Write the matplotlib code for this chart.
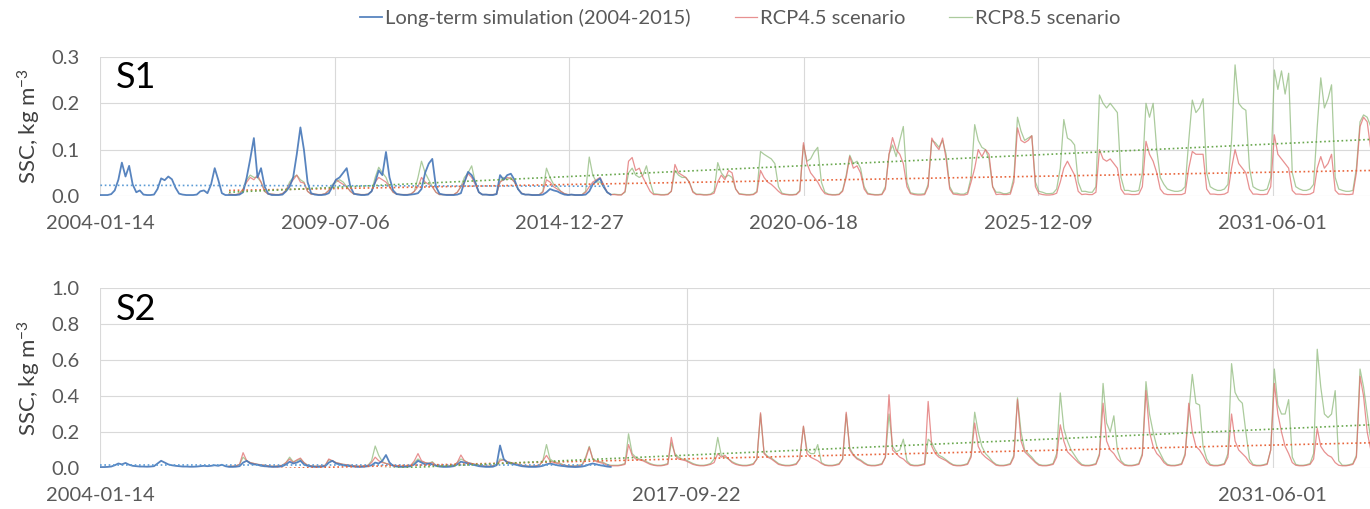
import numpy as np
import matplotlib
matplotlib.use("Agg")
import matplotlib.pyplot as plt

plt.rcParams['font.family'] = ['Lato', 'DejaVu Sans']
plt.rcParams['mathtext.default'] = 'regular'

# monthly SSC values (kg m-3), one row per year, Jan..Dec, mid-month
lt_first_year = 2004
rcp_first_year = 2007

s1_longterm = [
    [0.002, 0.002, 0.002, 0.004, 0.012, 0.035, 0.072, 0.042, 0.065, 0.025, 0.008, 0.012],
    [0.003, 0.002, 0.002, 0.003, 0.015, 0.038, 0.034, 0.042, 0.036, 0.018, 0.005, 0.003],
    [0.002, 0.002, 0.002, 0.003, 0.010, 0.012, 0.006, 0.025, 0.060, 0.035, 0.006, 0.002],
    [0.002, 0.002, 0.002, 0.003, 0.008, 0.040, 0.080, 0.125, 0.040, 0.060, 0.020, 0.005],
    [0.002, 0.002, 0.002, 0.003, 0.010, 0.020, 0.040, 0.090, 0.148, 0.100, 0.030, 0.006],
    [0.003, 0.002, 0.002, 0.003, 0.006, 0.020, 0.035, 0.040, 0.050, 0.060, 0.020, 0.005],
    [0.003, 0.002, 0.002, 0.003, 0.010, 0.030, 0.055, 0.045, 0.095, 0.040, 0.012, 0.004],
    [0.003, 0.002, 0.002, 0.003, 0.004, 0.006, 0.015, 0.050, 0.070, 0.080, 0.020, 0.005],
    [0.003, 0.002, 0.002, 0.002, 0.003, 0.006, 0.030, 0.052, 0.045, 0.030, 0.008, 0.003],
    [0.003, 0.002, 0.002, 0.004, 0.045, 0.035, 0.045, 0.048, 0.035, 0.015, 0.005, 0.003],
    [0.003, 0.002, 0.002, 0.002, 0.003, 0.008, 0.015, 0.012, 0.010, 0.006, 0.003, 0.002],
    [0.003, 0.002, 0.002, 0.002, 0.003, 0.010, 0.025, 0.032, 0.038, 0.020, 0.008, 0.003],
]

s1_rcp45 = [
    [0.004, 0.003, 0.003, 0.005, 0.015, 0.030, 0.040, 0.035, 0.045, 0.030, 0.010, 0.004],
    [0.004, 0.003, 0.003, 0.005, 0.012, 0.025, 0.035, 0.045, 0.030, 0.028, 0.010, 0.004],
    [0.004, 0.003, 0.003, 0.005, 0.012, 0.020, 0.035, 0.030, 0.025, 0.020, 0.010, 0.004],
    [0.004, 0.003, 0.003, 0.004, 0.010, 0.030, 0.040, 0.035, 0.030, 0.020, 0.008, 0.004],
    [0.003, 0.003, 0.003, 0.004, 0.010, 0.020, 0.040, 0.030, 0.025, 0.020, 0.008, 0.003],
    [0.003, 0.003, 0.003, 0.003, 0.008, 0.020, 0.030, 0.048, 0.040, 0.025, 0.008, 0.003],
    [0.003, 0.003, 0.003, 0.004, 0.030, 0.035, 0.040, 0.038, 0.030, 0.015, 0.006, 0.003],
    [0.003, 0.002, 0.002, 0.003, 0.008, 0.035, 0.030, 0.020, 0.015, 0.010, 0.005, 0.003],
    [0.003, 0.002, 0.002, 0.003, 0.008, 0.020, 0.030, 0.035, 0.040, 0.025, 0.008, 0.003],
    [0.003, 0.002, 0.002, 0.010, 0.075, 0.083, 0.055, 0.060, 0.040, 0.025, 0.010, 0.003],
    [0.003, 0.002, 0.002, 0.003, 0.010, 0.068, 0.050, 0.045, 0.040, 0.030, 0.008, 0.003],
    [0.003, 0.002, 0.002, 0.003, 0.006, 0.030, 0.045, 0.035, 0.055, 0.050, 0.015, 0.004],
    [0.003, 0.002, 0.002, 0.003, 0.008, 0.055, 0.040, 0.030, 0.025, 0.018, 0.010, 0.004],
    [0.003, 0.002, 0.002, 0.003, 0.010, 0.115, 0.070, 0.050, 0.040, 0.030, 0.015, 0.005],
    [0.003, 0.002, 0.002, 0.003, 0.010, 0.040, 0.085, 0.060, 0.065, 0.050, 0.015, 0.004],
    [0.003, 0.002, 0.002, 0.003, 0.015, 0.090, 0.126, 0.100, 0.090, 0.070, 0.020, 0.005],
    [0.003, 0.002, 0.002, 0.003, 0.020, 0.125, 0.110, 0.100, 0.125, 0.080, 0.015, 0.004],
    [0.003, 0.002, 0.002, 0.004, 0.030, 0.060, 0.100, 0.085, 0.100, 0.090, 0.020, 0.003],
    [0.004, 0.003, 0.003, 0.004, 0.030, 0.147, 0.120, 0.115, 0.120, 0.130, 0.020, 0.005],
    [0.003, 0.002, 0.002, 0.003, 0.006, 0.030, 0.060, 0.075, 0.060, 0.045, 0.010, 0.003],
    [0.004, 0.003, 0.003, 0.008, 0.100, 0.080, 0.075, 0.080, 0.070, 0.060, 0.015, 0.004],
    [0.004, 0.003, 0.003, 0.004, 0.020, 0.118, 0.090, 0.075, 0.050, 0.015, 0.005, 0.003],
    [0.003, 0.003, 0.003, 0.003, 0.006, 0.060, 0.096, 0.090, 0.090, 0.090, 0.015, 0.004],
    [0.004, 0.003, 0.003, 0.004, 0.008, 0.060, 0.100, 0.070, 0.060, 0.050, 0.015, 0.004],
    [0.004, 0.003, 0.003, 0.004, 0.020, 0.132, 0.090, 0.080, 0.070, 0.060, 0.012, 0.004],
    [0.004, 0.003, 0.003, 0.004, 0.008, 0.060, 0.085, 0.060, 0.070, 0.090, 0.012, 0.004],
    [0.004, 0.003, 0.003, 0.004, 0.050, 0.150, 0.170, 0.160, 0.100, 0.080, 0.015, 0.004],
]

s1_rcp85 = [
    [0.004, 0.003, 0.003, 0.005, 0.015, 0.035, 0.045, 0.040, 0.040, 0.030, 0.010, 0.004],
    [0.004, 0.003, 0.003, 0.005, 0.012, 0.030, 0.040, 0.045, 0.035, 0.030, 0.010, 0.004],
    [0.004, 0.003, 0.003, 0.005, 0.012, 0.025, 0.030, 0.035, 0.030, 0.020, 0.010, 0.004],
    [0.004, 0.003, 0.003, 0.004, 0.010, 0.040, 0.062, 0.050, 0.040, 0.020, 0.008, 0.004],
    [0.003, 0.003, 0.003, 0.004, 0.010, 0.040, 0.075, 0.050, 0.035, 0.020, 0.008, 0.003],
    [0.003, 0.003, 0.003, 0.003, 0.008, 0.020, 0.040, 0.050, 0.065, 0.030, 0.008, 0.003],
    [0.003, 0.003, 0.003, 0.004, 0.030, 0.040, 0.035, 0.040, 0.030, 0.015, 0.006, 0.003],
    [0.003, 0.002, 0.002, 0.003, 0.010, 0.060, 0.040, 0.025, 0.020, 0.010, 0.005, 0.003],
    [0.003, 0.002, 0.002, 0.003, 0.010, 0.084, 0.045, 0.030, 0.030, 0.020, 0.008, 0.003],
    [0.004, 0.003, 0.003, 0.008, 0.050, 0.060, 0.045, 0.040, 0.045, 0.065, 0.030, 0.005],
    [0.004, 0.003, 0.003, 0.004, 0.010, 0.055, 0.045, 0.040, 0.040, 0.030, 0.010, 0.004],
    [0.004, 0.003, 0.003, 0.004, 0.010, 0.072, 0.050, 0.040, 0.045, 0.040, 0.015, 0.005],
    [0.004, 0.003, 0.003, 0.004, 0.010, 0.096, 0.090, 0.085, 0.080, 0.070, 0.020, 0.006],
    [0.004, 0.003, 0.003, 0.004, 0.012, 0.110, 0.075, 0.080, 0.095, 0.105, 0.030, 0.008],
    [0.004, 0.003, 0.003, 0.004, 0.012, 0.045, 0.088, 0.070, 0.075, 0.060, 0.020, 0.006],
    [0.004, 0.003, 0.003, 0.004, 0.020, 0.090, 0.110, 0.085, 0.120, 0.150, 0.030, 0.007],
    [0.005, 0.004, 0.004, 0.005, 0.025, 0.120, 0.115, 0.105, 0.120, 0.090, 0.020, 0.006],
    [0.006, 0.004, 0.004, 0.008, 0.040, 0.154, 0.120, 0.105, 0.100, 0.080, 0.020, 0.008],
    [0.008, 0.005, 0.005, 0.008, 0.040, 0.170, 0.140, 0.120, 0.125, 0.130, 0.030, 0.010],
    [0.008, 0.005, 0.005, 0.006, 0.015, 0.060, 0.165, 0.125, 0.120, 0.110, 0.030, 0.010],
    [0.010, 0.008, 0.008, 0.020, 0.218, 0.200, 0.190, 0.200, 0.190, 0.180, 0.040, 0.012],
    [0.012, 0.010, 0.010, 0.012, 0.050, 0.200, 0.170, 0.200, 0.100, 0.040, 0.025, 0.015],
    [0.012, 0.010, 0.010, 0.012, 0.020, 0.120, 0.207, 0.180, 0.190, 0.210, 0.050, 0.020],
    [0.015, 0.012, 0.012, 0.015, 0.025, 0.120, 0.283, 0.200, 0.190, 0.185, 0.060, 0.020],
    [0.015, 0.012, 0.012, 0.015, 0.040, 0.272, 0.230, 0.270, 0.220, 0.265, 0.050, 0.020],
    [0.015, 0.012, 0.012, 0.015, 0.025, 0.150, 0.255, 0.190, 0.210, 0.240, 0.040, 0.015],
    [0.012, 0.010, 0.010, 0.012, 0.060, 0.160, 0.175, 0.170, 0.150, 0.120, 0.040, 0.015],
]

s2_longterm = [
    [0.005, 0.005, 0.006, 0.008, 0.015, 0.025, 0.020, 0.028, 0.018, 0.012, 0.010, 0.008],
    [0.008, 0.007, 0.008, 0.010, 0.025, 0.040, 0.030, 0.020, 0.015, 0.012, 0.010, 0.008],
    [0.008, 0.007, 0.007, 0.008, 0.010, 0.012, 0.010, 0.012, 0.015, 0.012, 0.018, 0.010],
    [0.006, 0.006, 0.007, 0.010, 0.030, 0.040, 0.025, 0.020, 0.018, 0.012, 0.010, 0.008],
    [0.006, 0.006, 0.007, 0.010, 0.020, 0.035, 0.025, 0.030, 0.040, 0.020, 0.012, 0.008],
    [0.006, 0.006, 0.007, 0.010, 0.030, 0.040, 0.025, 0.020, 0.015, 0.012, 0.010, 0.008],
    [0.006, 0.006, 0.007, 0.010, 0.015, 0.030, 0.025, 0.040, 0.072, 0.030, 0.012, 0.008],
    [0.006, 0.006, 0.007, 0.010, 0.020, 0.040, 0.030, 0.020, 0.025, 0.020, 0.012, 0.008],
    [0.006, 0.006, 0.007, 0.010, 0.020, 0.035, 0.030, 0.025, 0.020, 0.015, 0.010, 0.008],
    [0.006, 0.006, 0.007, 0.015, 0.125, 0.050, 0.030, 0.025, 0.020, 0.015, 0.010, 0.008],
    [0.006, 0.006, 0.006, 0.008, 0.012, 0.020, 0.025, 0.020, 0.015, 0.012, 0.010, 0.007],
    [0.006, 0.005, 0.006, 0.008, 0.012, 0.020, 0.025, 0.020, 0.015, 0.012, 0.008, 0.006],
]

s2_rcp45 = [
    [0.010, 0.010, 0.012, 0.020, 0.085, 0.040, 0.030, 0.025, 0.020, 0.018, 0.015, 0.012],
    [0.010, 0.010, 0.012, 0.015, 0.030, 0.050, 0.030, 0.045, 0.055, 0.030, 0.015, 0.012],
    [0.010, 0.010, 0.012, 0.015, 0.050, 0.040, 0.030, 0.025, 0.020, 0.018, 0.015, 0.012],
    [0.010, 0.010, 0.012, 0.015, 0.030, 0.060, 0.040, 0.030, 0.025, 0.020, 0.015, 0.012],
    [0.010, 0.010, 0.012, 0.015, 0.040, 0.080, 0.040, 0.030, 0.025, 0.030, 0.015, 0.012],
    [0.010, 0.010, 0.012, 0.015, 0.030, 0.072, 0.040, 0.030, 0.025, 0.020, 0.015, 0.012],
    [0.010, 0.010, 0.012, 0.015, 0.040, 0.045, 0.035, 0.030, 0.025, 0.020, 0.015, 0.012],
    [0.010, 0.010, 0.012, 0.015, 0.040, 0.070, 0.040, 0.030, 0.025, 0.020, 0.015, 0.012],
    [0.010, 0.010, 0.012, 0.015, 0.050, 0.115, 0.050, 0.035, 0.030, 0.025, 0.015, 0.012],
    [0.012, 0.012, 0.015, 0.020, 0.130, 0.070, 0.050, 0.045, 0.040, 0.030, 0.020, 0.015],
    [0.012, 0.012, 0.015, 0.020, 0.170, 0.070, 0.050, 0.045, 0.040, 0.030, 0.020, 0.015],
    [0.012, 0.012, 0.015, 0.020, 0.030, 0.080, 0.060, 0.070, 0.050, 0.030, 0.020, 0.015],
    [0.012, 0.012, 0.015, 0.020, 0.050, 0.307, 0.080, 0.060, 0.050, 0.035, 0.020, 0.015],
    [0.012, 0.012, 0.015, 0.020, 0.050, 0.233, 0.080, 0.060, 0.050, 0.040, 0.025, 0.015],
    [0.012, 0.012, 0.015, 0.020, 0.050, 0.310, 0.100, 0.070, 0.050, 0.040, 0.025, 0.015],
    [0.012, 0.012, 0.015, 0.020, 0.060, 0.407, 0.100, 0.080, 0.060, 0.050, 0.030, 0.015],
    [0.012, 0.012, 0.015, 0.020, 0.370, 0.120, 0.080, 0.060, 0.050, 0.040, 0.025, 0.015],
    [0.012, 0.012, 0.015, 0.020, 0.060, 0.250, 0.120, 0.080, 0.060, 0.045, 0.030, 0.015],
    [0.012, 0.012, 0.015, 0.020, 0.060, 0.380, 0.150, 0.090, 0.070, 0.050, 0.030, 0.015],
    [0.012, 0.012, 0.015, 0.020, 0.060, 0.240, 0.150, 0.090, 0.070, 0.050, 0.030, 0.015],
    [0.012, 0.012, 0.015, 0.020, 0.070, 0.360, 0.150, 0.100, 0.080, 0.050, 0.030, 0.015],
    [0.012, 0.012, 0.015, 0.020, 0.070, 0.430, 0.200, 0.120, 0.080, 0.060, 0.030, 0.015],
    [0.012, 0.012, 0.015, 0.020, 0.070, 0.360, 0.200, 0.120, 0.100, 0.070, 0.030, 0.015],
    [0.012, 0.012, 0.015, 0.020, 0.060, 0.300, 0.150, 0.100, 0.080, 0.060, 0.030, 0.015],
    [0.012, 0.012, 0.015, 0.020, 0.100, 0.470, 0.300, 0.200, 0.120, 0.080, 0.030, 0.015],
    [0.012, 0.012, 0.015, 0.020, 0.050, 0.220, 0.120, 0.090, 0.070, 0.060, 0.030, 0.015],
    [0.012, 0.012, 0.015, 0.020, 0.060, 0.510, 0.400, 0.200, 0.100, 0.070, 0.030, 0.015],
]

s2_rcp85 = [
    [0.010, 0.010, 0.012, 0.020, 0.060, 0.040, 0.030, 0.025, 0.020, 0.018, 0.015, 0.012],
    [0.010, 0.010, 0.012, 0.015, 0.030, 0.060, 0.035, 0.040, 0.050, 0.030, 0.015, 0.012],
    [0.010, 0.010, 0.012, 0.015, 0.045, 0.040, 0.030, 0.025, 0.020, 0.018, 0.015, 0.012],
    [0.010, 0.010, 0.012, 0.015, 0.040, 0.122, 0.070, 0.035, 0.025, 0.020, 0.015, 0.012],
    [0.010, 0.010, 0.012, 0.015, 0.030, 0.050, 0.035, 0.030, 0.025, 0.035, 0.015, 0.012],
    [0.010, 0.010, 0.012, 0.015, 0.030, 0.050, 0.040, 0.030, 0.025, 0.020, 0.015, 0.012],
    [0.010, 0.010, 0.012, 0.015, 0.050, 0.045, 0.035, 0.030, 0.025, 0.020, 0.015, 0.012],
    [0.010, 0.010, 0.012, 0.015, 0.040, 0.130, 0.050, 0.035, 0.030, 0.025, 0.015, 0.012],
    [0.012, 0.012, 0.015, 0.020, 0.060, 0.120, 0.050, 0.040, 0.035, 0.030, 0.020, 0.015],
    [0.015, 0.015, 0.018, 0.025, 0.190, 0.080, 0.060, 0.050, 0.045, 0.035, 0.025, 0.018],
    [0.015, 0.015, 0.018, 0.025, 0.140, 0.080, 0.060, 0.050, 0.045, 0.035, 0.025, 0.018],
    [0.015, 0.015, 0.018, 0.025, 0.050, 0.170, 0.070, 0.060, 0.050, 0.035, 0.025, 0.018],
    [0.015, 0.015, 0.018, 0.025, 0.050, 0.300, 0.085, 0.065, 0.055, 0.040, 0.025, 0.018],
    [0.015, 0.015, 0.018, 0.025, 0.050, 0.230, 0.100, 0.080, 0.080, 0.130, 0.030, 0.018],
    [0.015, 0.015, 0.018, 0.025, 0.050, 0.300, 0.110, 0.075, 0.055, 0.045, 0.030, 0.018],
    [0.015, 0.015, 0.018, 0.025, 0.060, 0.300, 0.120, 0.090, 0.100, 0.160, 0.040, 0.020],
    [0.015, 0.015, 0.018, 0.025, 0.160, 0.140, 0.100, 0.070, 0.060, 0.045, 0.030, 0.018],
    [0.015, 0.015, 0.018, 0.025, 0.070, 0.310, 0.200, 0.120, 0.080, 0.060, 0.035, 0.020],
    [0.015, 0.015, 0.018, 0.025, 0.070, 0.390, 0.200, 0.100, 0.080, 0.060, 0.035, 0.020],
    [0.015, 0.015, 0.018, 0.025, 0.080, 0.417, 0.220, 0.150, 0.100, 0.070, 0.040, 0.020],
    [0.015, 0.015, 0.018, 0.025, 0.080, 0.470, 0.250, 0.200, 0.290, 0.100, 0.040, 0.020],
    [0.015, 0.015, 0.018, 0.025, 0.080, 0.480, 0.300, 0.200, 0.120, 0.080, 0.040, 0.020],
    [0.015, 0.015, 0.018, 0.025, 0.080, 0.300, 0.520, 0.360, 0.350, 0.120, 0.050, 0.020],
    [0.015, 0.015, 0.018, 0.025, 0.080, 0.580, 0.420, 0.380, 0.360, 0.200, 0.050, 0.020],
    [0.015, 0.015, 0.018, 0.025, 0.100, 0.550, 0.350, 0.300, 0.300, 0.380, 0.060, 0.020],
    [0.015, 0.015, 0.018, 0.025, 0.080, 0.660, 0.450, 0.300, 0.280, 0.300, 0.430, 0.040],
    [0.015, 0.015, 0.018, 0.025, 0.070, 0.550, 0.450, 0.300, 0.150, 0.080, 0.040, 0.020],
]

# dotted linear trend lines: value at start and end of the period
lt_trend_dates = ['2004-01-14', '2015-12-15']
rcp_trend_dates = ['2007-01-15', '2033-09-08']
s1_trend_lt = [0.023, 0.021]
s1_trend_45 = [0.012, 0.055]
s1_trend_85 = [0.008, 0.122]
s2_trend_lt = [0.016, 0.016]
s2_trend_45 = [-0.009, 0.140]
s2_trend_85 = [-0.042, 0.240]

labels = ['Long-term simulation (2004-2015)', 'RCP4.5 scenario', 'RCP8.5 scenario']
x_start = np.datetime64('2004-01-14')
x_end = np.datetime64('2033-09-08')


def monthly(rows, first_year):
    dates = [np.datetime64(f"{first_year + i}-{m:02d}-15")
             for i in range(len(rows)) for m in range(1, 13)]
    vals = [v for row in rows for v in row]
    return np.array(dates), np.array(vals)


c_lt, c_45, c_85 = '#4677b8', '#e06c6c', '#8fba7c'
t_lt, t_45, t_85 = '#5b9bd5', '#e8663d', '#6aa84f'
dot = (0, (1, 1.6))
txt = '#595959'

fig = plt.figure(figsize=(13.7, 5.09), dpi=100)
ax1 = fig.add_axes([0.0733, 0.615, 0.9267, 0.273])
ax2 = fig.add_axes([0.0733, 0.0806, 0.9267, 0.3534])

panels = [
    (ax1, 'S1', s1_longterm, s1_rcp45, s1_rcp85, s1_trend_lt, s1_trend_45, s1_trend_85,
     0.3, 0.1, 2000),
    (ax2, 'S2', s2_longterm, s2_rcp45, s2_rcp85, s2_trend_lt, s2_trend_45, s2_trend_85,
     1.0, 0.2, 5000),
]

for ax, name, lt, r45, r85, tr_lt, tr45, tr85, ymax, ystep, tick_days in panels:
    d, v = monthly(r85, rcp_first_year)
    h85, = ax.plot(d, v, color=c_85, lw=0.9, alpha=0.75, zorder=2)
    d, v = monthly(r45, rcp_first_year)
    h45, = ax.plot(d, v, color=c_45, lw=0.9, alpha=0.75, zorder=3)
    d, v = monthly(lt, lt_first_year)
    hlt, = ax.plot(d, v, color=c_lt, lw=1.3, alpha=0.9, zorder=4)

    ax.plot(np.array(lt_trend_dates, dtype='datetime64[D]'), tr_lt, color=t_lt,
            lw=1.2, ls=dot, zorder=5)
    ax.plot(np.array(rcp_trend_dates, dtype='datetime64[D]'), tr45, color=t_45,
            lw=1.2, ls=dot, zorder=5)
    ax.plot(np.array(rcp_trend_dates, dtype='datetime64[D]'), tr85, color=t_85,
            lw=1.2, ls=dot, zorder=5)

    ax.set_xlim(x_start, x_end)
    ax.set_ylim(0, ymax)
    ax.set_yticks(np.arange(0, ymax + ystep / 2, ystep))
    ax.yaxis.set_major_formatter(plt.FormatStrFormatter('%.1f'))
    ticks = [x_start + np.timedelta64(k * tick_days, 'D')
             for k in range(int((x_end - x_start) / np.timedelta64(tick_days, 'D')) + 1)]
    ax.set_xticks(ticks)
    ax.set_xticklabels([str(t) for t in ticks])
    ax.grid(True, color='#d9d9d9', lw=0.8)
    ax.set_axisbelow(True)
    for s in ax.spines.values():
        s.set_visible(False)
    ax.tick_params(length=0, labelsize=14.5, labelcolor=txt)
    ax.tick_params(axis='x', pad=14)
    ax.tick_params(axis='y', pad=15)
    ax.set_ylabel('SSC, kg m$^{-3}$', fontsize=16, color='#404040')
    ax.yaxis.set_label_coords(-0.045, 0.5)
    ax.text(0.012, 0.97, name, transform=ax.transAxes, fontsize=26,
            va='top', ha='left', color='black')

fig.legend([hlt, h45, h85], labels, loc='center', bbox_to_anchor=(0.54, 0.965),
           ncol=3, frameon=False, fontsize=14.5, handlelength=1.1,
           handletextpad=0.15, columnspacing=2.2, labelcolor=txt)

fig.savefig('out.png', dpi=100)
